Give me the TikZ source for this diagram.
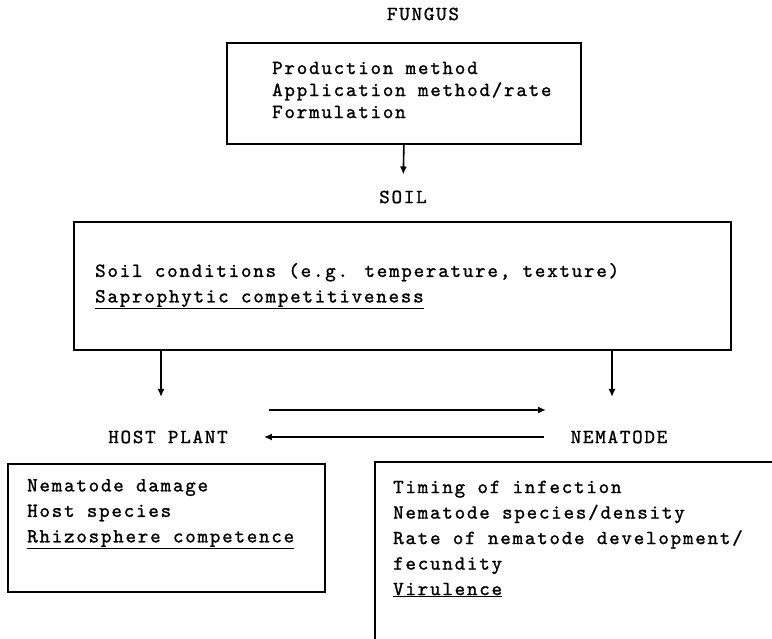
\documentclass[tikz,border=0pt]{standalone}
\usepackage{fontspec}
\usetikzlibrary{arrows.meta}
\newfontfamily\tw[LetterSpace=9,FakeBold=1.2]{lmmono10-regular.otf}
\begin{document}
\begin{tikzpicture}[x=1pt,y=-1pt,
  box/.style={draw, line width=1.8pt, inner sep=0pt, anchor=north west},
  lbl/.style={font=\tw\fontsize{20}{25.5}\selectfont, inner sep=0pt},
  txt/.style={lbl, align=left, anchor=west},
  ftxt/.style={font=\tw\fontsize{20}{22}\selectfont, inner sep=0pt, align=left, anchor=west},
  arr/.style={-{Latex[length=8pt,width=7pt]}, line width=1.6pt},
  edge/.style={line width=1.8pt}]
\useasboundingbox (0,0) rectangle (772,639);
% FUNGUS
\node[lbl] (fungt) at (423,14) {FUNGUS};
\node[box, minimum width=354pt, minimum height=101pt] (fbox) at (226,42) {};
\node[ftxt] (ftext) at (272,90) {Production method\\Application method/rate\\Formulation};
% SOIL
\node[lbl] (soilt) at (403,197) {SOIL};
\draw[arr, shorten >=16pt] (fbox.south) -- (soilt.north);
\node[box, minimum width=657pt, minimum height=128pt] (sbox) at (73,221) {};
\node[txt] (stext) at (95,286) {Soil conditions (e.g. temperature, texture)\\\underline{Saprophytic competitiveness}};
% down arrows
\coordinate (l1) at (161,397);
\coordinate (r1) at (612,397);
\draw[arr] (l1 |- sbox.south) -- (l1);
\draw[arr] (r1 |- sbox.south) -- (r1);
% HOST PLANT / NEMATODE
\node[lbl] (hpt) at (168,437) {HOST PLANT};
\node[lbl] (nemt) at (619,437) {NEMATODE};
\coordinate (h1) at (269,410);
\coordinate (h2) at (546,410);
\draw[arr] (h1) -- (h2);
\draw[arr, shorten <=27pt, shorten >=36pt] (nemt.west) -- (hpt.east);
% host box
\node[box, minimum width=317pt, minimum height=128pt] (hbox) at (7,463) {};
\node[txt] (htext) at (27,514) {Nematode damage\\Host species\\\underline{Rhizosphere competence}};
% nematode box (open)
\coordinate (nb) at (375,462);
\draw[edge] (772,462) -- (nb) -- (375,639);
\node[txt] (ntext) at (393,539) {Timing of infection\\Nematode species/density\\Rate of nematode development/\\fecundity\\\underline{Virulence}};
\end{tikzpicture}
\end{document}
